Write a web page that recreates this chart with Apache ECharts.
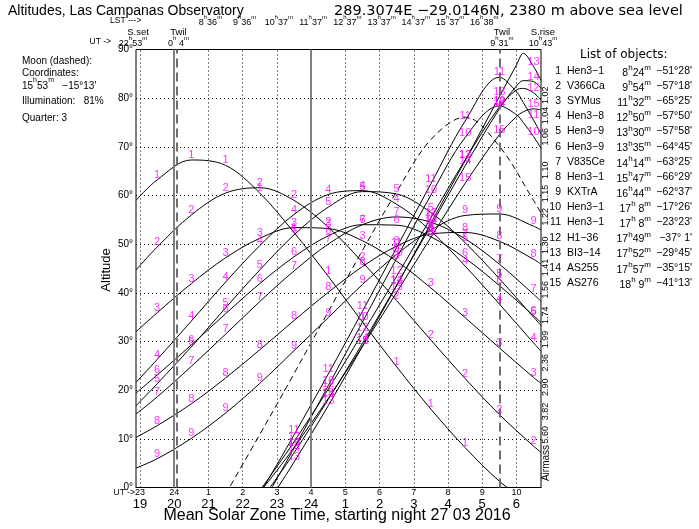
<!DOCTYPE html>
<html>
<head>
<meta charset="utf-8">
<script src="https://cdn.jsdelivr.net/npm/echarts@6/dist/echarts.min.js"></script>
<style>
  html, body { margin: 0; padding: 0; background: #fff; }
  #chart { width: 699px; height: 529px; }
</style>
</head>
<body>
<div id="chart"></div>
<script>
// sample times, UT hours after 0h (sunset 22h53m -> sunrise 10h43m)
var hours = [-1.117, -0.5, 0.5, 1.5, 2.5, 3.0, 3.5, 4.5, 5.5, 6.5, 7.5, 8.5, 9.5, 10.0, 10.2, 10.5, 10.717];

// altitudes (deg) of each object at those times, null = not sampled
var alt1  = [59.0, 63.2, 67.3, 66.2, 60.5, null, 52.4, 43.4, 34.0, 24.8, 16.1, 8.2, 1.3, null, null, -4.1, -5.1];
var alt2  = [44.7, 49.4, 56.0, 60.5, 61.6, null, 59.0, 53.5, 46.3, 38.4, 30.3, 22.4, 15.0, null, null, 8.5, 7.2];
var alt3  = [32.0, 35.9, 41.9, 47.2, 51.2, null, 53.4, 53.2, 50.7, 46.5, 41.0, 34.9, 28.7, null, null, 22.6, 21.4];
var alt4  = [21.6, 26.3, 34.2, 42.2, 49.7, null, 56.1, 60.2, 61.0, 58.2, 52.7, 45.5, 37.7, null, null, 29.7, 28.0];
var alt5  = [16.8, 21.3, 28.9, 36.9, 44.7, null, 51.9, 57.6, 60.8, 60.3, 56.5, 50.3, 42.9, null, null, 35.0, 33.3];
var alt6  = [19.4, 23.1, 29.3, 35.7, 41.9, null, 47.4, 51.7, 54.0, 53.9, 51.5, 47.1, 41.5, null, null, 35.3, 33.9];
var alt7  = [15.1, 18.6, 24.9, 31.5, 38.2, null, 44.5, 50.0, 54.0, 55.6, 54.5, 51.1, 45.9, null, null, 39.7, 38.3];
var alt8  = [10.3, 12.7, 17.2, 22.5, 28.3, null, 34.3, 40.1, 45.4, 49.6, 52.1, 52.4, 50.6, null, null, 46.9, 45.9];
var alt9  = [4.0, 5.9, 10.1, 15.3, 21.4, null, 28.1, 34.9, 41.7, 47.9, 52.9, 55.9, 56.2, null, null, 53.7, 52.9];
var alt10 = [null, null, null, -16.1, -4.4, 1.8, 8.1, 20.9, 34.0, 47.1, 60.1, 71.9, 78.4, 76.6, 75.0, 72.1, 69.7];
var alt11 = [null, null, null, -12.4, -1.2, 4.7, 10.8, 23.3, 36.2, 49.3, 62.4, 75.3, 84.3, 81.3, 79.1, 75.5, 72.7];
var alt12 = [null, null, null, -9.4, -0.6, 4.3, 9.4, 20.2, 31.7, 43.4, 55.4, 67.3, 78.2, 81.7, 82.0, 81.1, 79.6];
var alt13 = [null, null, null, -15.2, -5.6, -0.3, 5.2, 16.8, 29.0, 41.5, 54.3, 67.2, 80.3, 86.8, 89.2, 86.5, 83.7];
var alt14 = [null, null, null, -11.8, -2.9, 2.0, 7.1, 18.1, 29.6, 41.6, 53.8, 66.1, 77.8, 82.5, 83.6, 83.4, 82.0];
var alt15 = [null, null, null, -8.7, -0.9, 3.5, 8.2, 18.3, 29.0, 40.1, 51.4, 62.5, 72.5, 76.2, 77.2, 77.8, 77.6];
var moonAlt = [null, null, null, -1.4, 10.9, 17.1, 23.4, 36.1, 48.7, 60.8, 71.5, 76.1, 70.1, null, null, 59.0, 56.4];

// list of objects
var objNames = ['Hen3−1', 'V366Ca', 'SYMus', 'Hen3−8', 'Hen3−9', 'Hen3−9', 'V835Ce', 'Hen3−1', 'KXTrA', 'Hen3−1', 'Hen3−1', 'H1−36', 'BI3−14', 'AS255', 'AS276'];
var objRA = ['8h24m', '9h54m', '11h32m', '12h50m', '13h30m', '13h35m', '14h14m', '15h47m', '16h44m', '17h 8m', '17h 8m', '17h49m', '17h52m', '17h57m', '18h 9m'];
var objDec = ['−51°28\'', '−57°18\'', '−65°25\'', '−57°50\'', '−57°58\'', '−64°45\'', '−63°25\'', '−66°29\'', '−62°37\'', '−17°26\'', '−23°23\'', '−37° 1\'', '−29°45\'', '−35°15\'', '−41°13\''];

// axis ticks / labels
var tickHours = [-1, 0, 1, 2, 3, 4, 5, 6, 7, 8, 9, 10];
var utLabels = ['23', '24', '1', '2', '3', '4', '5', '6', '7', '8', '9', '10'];
var localLabels = ['19', '20', '21', '22', '23', '24', '1', '2', '3', '4', '5', '6'];
var lstHours = [1, 2, 3, 4, 5, 6, 7, 8, 9];
var lstLabels = ['8h36m', '9h36m', '10h37m', '11h37m', '12h37m', '13h37m', '14h37m', '15h37m', '16h38m'];
var airmassAlt = [80, 75, 70, 65, 60, 55, 50, 45, 40, 35, 30, 25, 20, 15, 10];
var airmassLabels = ['1.02', '1.04', '1.06', '1.10', '1.15', '1.22', '1.30', '1.41', '1.56', '1.74', '1.99', '2.36', '2.90', '3.82', '5.60'];

// sun / twilight / midnight events (UT hours)
var sunSet = -1.117, sunRise = 10.717;
var twilights = [0.067, 9.517];
var midnights = [0, 4];
var eventNames = ['S.set', 'Twil', 'Twil', 'S.rise'];
var eventTimes = ['22h53m', '0h 4m', '9h31m', '10h43m'];

var FONT = '"Liberation Sans", Arial, sans-serif';
var WIDE = '"DejaVu Sans", sans-serif';
var MAG = '#ff00ff';

var chart = echarts.init(document.getElementById('chart'));

var curves = [alt1, alt2, alt3, alt4, alt5, alt6, alt7, alt8, alt9, alt10, alt11, alt12, alt13, alt14, alt15];
var series = [];

// grid lines and event lines
var gridHours = tickHours.filter(function (h) { return midnights.indexOf(h) < 0; });
var vlines = [];
gridHours.forEach(function (h) {
  vlines.push({ xAxis: h, lineStyle: { type: [1, 3], color: '#000', width: 1 } });
});
midnights.concat([sunSet, sunRise]).forEach(function (h) {
  vlines.push({ xAxis: h, lineStyle: { type: 'solid', color: '#808080', width: 2 } });
});
twilights.forEach(function (h) {
  vlines.push({ xAxis: h, lineStyle: { type: [9, 5], color: '#6e6e6e', width: 2 } });
});
series.push({
  type: 'line', data: [], silent: true, z: 1,
  markLine: { symbol: 'none', silent: true, animation: false, label: { show: false }, data: vlines }
});

curves.forEach(function (alt, k) {
  var pts = hours.map(function (h, i) { return [h, alt[i]]; });
  series.push({
    type: 'line', smooth: 0.35, connectNulls: true, symbol: 'none', silent: true, z: 3,
    data: pts,
    lineStyle: { color: '#000', width: 1 }
  });
  // number labels every half hour above the horizon
  series.push({
    type: 'scatter', silent: true, symbolSize: 1, z: 5,
    itemStyle: { color: 'rgba(0,0,0,0)' },
    data: pts.filter(function (p) {
      return Math.abs(p[0] - Math.floor(p[0]) - 0.5) < 1e-6 && p[1] !== null && p[1] > 3;
    }),
    label: {
      show: true, formatter: String(k + 1), position: 'inside', offset: [0, -5],
      color: MAG, fontSize: 11, fontFamily: FONT
    }
  });
});

series.push({
  type: 'line', smooth: 0.35, connectNulls: true, symbol: 'none', silent: true, z: 3,
  data: hours.map(function (h, i) { return [h, moonAlt[i]]; }),
  lineStyle: { color: '#000', width: 1, type: [6, 4] }
});

var option = {
  animation: false,
  backgroundColor: '#fff',
  grid: { left: 136, right: 158, top: 49.5, bottom: 41.5, show: true, borderColor: '#000', borderWidth: 1 },
  xAxis: {
    type: 'value', min: sunSet, max: sunRise,
    axisLine: { show: true, lineStyle: { color: '#000' } },
    axisTick: { show: false }, axisLabel: { show: false }, splitLine: { show: false }
  },
  yAxis: {
    type: 'value', min: 0, max: 90, interval: 10,
    axisLine: { show: true, lineStyle: { color: '#000' } },
    axisTick: { show: false },
    axisLabel: { formatter: function (v) { return v + '°'; }, color: '#000', fontSize: 10, fontFamily: FONT, margin: 3 },
    splitLine: { show: true, lineStyle: { color: '#000', type: [1, 3], width: 1 } }
  },
  series: series
};
chart.setOption(option);

function px(h) { return chart.convertToPixel({ xAxisIndex: 0 }, h); }
function py(a) { return chart.convertToPixel({ yAxisIndex: 0 }, a); }

// rich text with superscript h / m
function sup(s) {
  var out = '', cur = '', st = null;
  for (var i = 0; i < s.length; i++) {
    var c = s[i];
    var isS = (c === 'h' || c === 'm');
    if (st !== null && isS !== st) { out += '{' + (st ? 's' : 'n') + '|' + cur + '}'; cur = ''; }
    st = isS; cur += c;
  }
  if (cur) out += '{' + (st ? 's' : 'n') + '|' + cur + '}';
  return out;
}
function richFor(size) {
  return {
    n: { fontSize: size, fontFamily: FONT, fill: '#000', color: '#000', verticalAlign: 'bottom', lineHeight: size + 4 },
    s: { fontSize: Math.round(size * 0.72), fontFamily: FONT, fill: '#000', color: '#000', verticalAlign: 'top', lineHeight: size + 4 }
  };
}
function txt(x, y, text, size, align, extra) {
  var el = {
    type: 'text', x: x, y: y, silent: true,
    style: {
      text: text, fill: '#000', font: size + 'px ' + FONT,
      align: align || 'left', verticalAlign: 'middle',
      textAlign: align || 'left', textVerticalAlign: 'middle'
    }
  };
  if (extra) {
    for (var key in extra) {
      if (key === 'style') Object.assign(el.style, extra.style); else el[key] = extra[key];
    }
  }
  return el;
}
function rtxt(x, y, s, size, align) {
  return txt(x, y, sup(s), size, align, { style: { rich: richFor(size) } });
}

var g = [];
// header
g.push(txt(8, 11, 'Altitudes, Las Campanas Observatory', 14));
g.push(txt(334, 11, '289.3074E −29.0146N, 2380 m above sea level', 14.5, 'left', { style: { font: '14.5px ' + WIDE } }));
g.push(txt(110, 21, 'LST --->', 8.5));
lstHours.forEach(function (h, i) { g.push(rtxt(px(h) + 2, 21, lstLabels[i], 9, 'center')); });
var evX = [sunSet, twilights[0], twilights[1], sunRise];
evX.forEach(function (h, i) {
  g.push(txt(px(h) + 2, 32, eventNames[i], 9.5, 'center'));
  g.push(rtxt(px(h) + (i === 0 ? -3 : 2), 42, eventTimes[i], 9, 'center'));
});
g.push(txt(px(sunSet) - 25, 42, 'UT ->', 8.5, 'right'));

// moon info
g.push(txt(22, 61, 'Moon (dashed):', 10));
g.push(txt(22, 73, 'Coordinates:', 10));
g.push(txt(22, 84, sup('15h53m') + '{n|   −15°13\'}', 10, 'left', { style: { rich: richFor(10) } }));
g.push(txt(22, 101, 'Illumination:   81%', 10));
g.push(txt(22, 118, 'Quarter: 3', 10));

// y axis name
g.push(txt(106, 270, 'Altitude', 13, 'center', { rotation: Math.PI / 2 }));

// bottom axis labels
g.push(txt(px(tickHours[0]) - 5, 493, 'UT ->', 8.5, 'right'));
tickHours.forEach(function (h, i) {
  g.push(txt(px(h), 493, utLabels[i], 9, 'center'));
  g.push(txt(px(h), 504, localLabels[i], 13, 'center'));
});
g.push(txt(337, 516, 'Mean Solar Zone Time, starting night 27 03 2016', 16, 'center'));

// airmass scale on the right
var airmassShift = [-3, -7, -10, -1, -2, -3, 1, -1, -3, -2, -2, -3, -3, -3, -4];
airmassAlt.forEach(function (a, i) {
  g.push(txt(546, py(a) + airmassShift[i], airmassLabels[i], 9, 'center', { rotation: Math.PI / 2 }));
});
g.push(txt(546, 463, 'Airmass', 10, 'center', { rotation: Math.PI / 2 }));

// list of objects
g.push(txt(580, 55, 'List of objects:', 12, 'left', { style: { font: '12px ' + WIDE } }));
objNames.forEach(function (name, i) {
  var y = 71 + 15.15 * i;
  g.push(txt(561, y, String(i + 1), 10.5, 'right'));
  g.push(txt(567, y, name, 10.5));
  g.push(rtxt(651, y, objRA[i], 10.5, 'right'));
  g.push(txt(692, y, objDec[i], 10.5, 'right'));
});

chart.setOption({ graphic: { elements: g } });
</script>
</body>
</html>
